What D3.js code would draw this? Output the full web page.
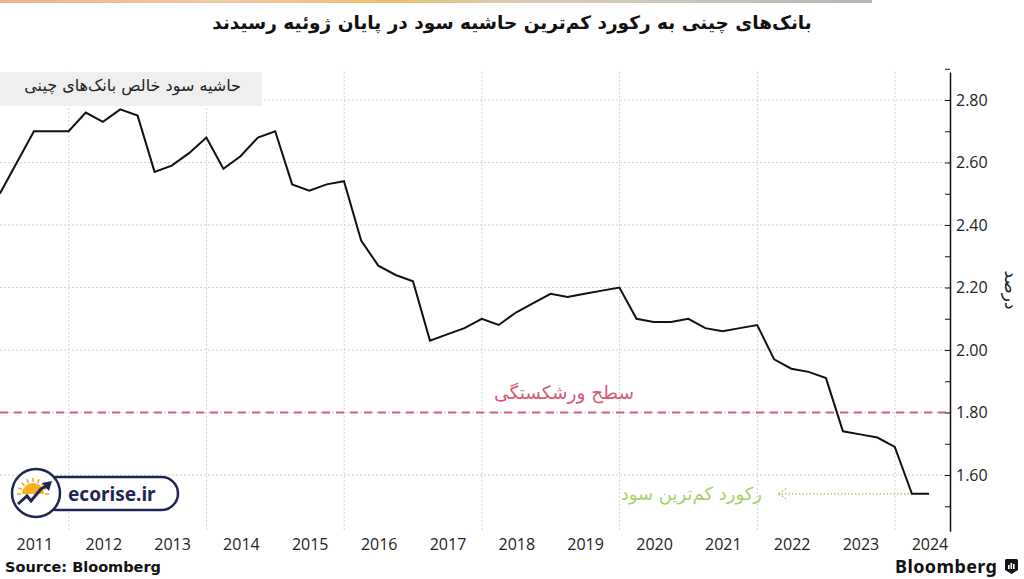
<!DOCTYPE html>
<html>
<head>
<meta charset="utf-8">
<script src="https://cdn.jsdelivr.net/npm/d3@7"></script>
<style>
  body { margin: 0; background: #fff; }
  svg { display: block; }
</style>
</head>
<body>
<div id="chart"></div>
<script>
// quarter-end dates and net interest margin (%) of Chinese commercial banks
const quarterEnds = [
  '2010-12-31', '2011-06-30', '2011-09-30', '2011-12-31',
  '2012-03-31', '2012-06-30', '2012-09-30', '2012-12-31',
  '2013-03-31', '2013-06-30', '2013-09-30', '2013-12-31',
  '2014-03-31', '2014-06-30', '2014-09-30', '2014-12-31',
  '2015-03-31', '2015-06-30', '2015-09-30', '2015-12-31',
  '2016-03-31', '2016-06-30', '2016-09-30', '2016-12-31',
  '2017-03-31', '2017-06-30', '2017-09-30', '2017-12-31',
  '2018-03-31', '2018-06-30', '2018-09-30', '2018-12-31',
  '2019-03-31', '2019-06-30', '2019-09-30', '2019-12-31',
  '2020-03-31', '2020-06-30', '2020-09-30', '2020-12-31',
  '2021-03-31', '2021-06-30', '2021-09-30', '2021-12-31',
  '2022-03-31', '2022-06-30', '2022-09-30', '2022-12-31',
  '2023-03-31', '2023-06-30', '2023-09-30', '2023-12-31',
  '2024-03-31', '2024-06-30'
];
const nimValues = [
  2.50, 2.70, 2.70, 2.70,
  2.76, 2.73, 2.77, 2.75,
  2.57, 2.59, 2.63, 2.68,
  2.58, 2.62, 2.68, 2.70,
  2.53, 2.51, 2.53, 2.54,
  2.35, 2.27, 2.24, 2.22,
  2.03, 2.05, 2.07, 2.10,
  2.08, 2.12, 2.15, 2.18,
  2.17, 2.18, 2.19, 2.20,
  2.10, 2.09, 2.09, 2.10,
  2.07, 2.06, 2.07, 2.08,
  1.97, 1.94, 1.93, 1.91,
  1.74, 1.73, 1.72, 1.69,
  1.54, 1.54
];
const yMajorTicks = [1.6, 1.8, 2.0, 2.2, 2.4, 2.6, 2.8];
const yMinorTicks = [1.5, 1.7, 1.9, 2.1, 2.3, 2.5, 2.7, 2.9];
const yearLabels = [2011, 2012, 2013, 2014, 2015, 2016, 2017, 2018, 2019, 2020, 2021, 2022, 2023, 2024];
const gridYears = [2012, 2014, 2016, 2018, 2020, 2022, 2024];
const breakEvenLevel = 1.8;
const recordLevel = 1.54;

const titleText = 'بانک\u200cهای چینی به رکورد کم\u200cترین حاشیه سود در پایان ژوئیه رسیدند';
const legendText = 'حاشیه سود خالص بانک\u200cهای چینی';
const unitText = 'درصد';
const breakEvenText = 'سطح ورشکستگی';
const recordText = 'رکورد کم\u200cترین سود';

const faFont = '"DejaVu Sans", sans-serif';
const numFont = '"Open Sans", "Noto Sans", sans-serif';

const width = 1024;
const height = 579;
const plotLeft = 0;
const plotRight = 950;

const parseDate = d3.timeParse('%Y-%m-%d');
const data = quarterEnds.map((d, i) => ({ date: parseDate(d), value: nimValues[i] }));

const svg = d3.select('#chart')
  .append('svg')
  .attr('width', width)
  .attr('height', height);

const x = d3.scaleTime()
  .domain([new Date(2011, 0, 1), new Date(2024, 9, 19)])
  .range([plotLeft, plotRight]);

const y = d3.scaleLinear()
  .domain([1.42, 2.89])
  .range([531.25, 71.875]);

// thin coloured strip at the very top (photo banner edge)
const grad = svg.append('defs').append('linearGradient').attr('id', 'strip');
[['0%', '#e9b48f'], ['25%', '#f0c9a6'], ['45%', '#e8c070'], ['60%', '#d9cdb8'], ['80%', '#c9c4bb'], ['100%', '#b9b6b0']]
  .forEach(([o, c]) => grad.append('stop').attr('offset', o).attr('stop-color', c));
svg.append('rect').attr('x', 0).attr('y', 0).attr('width', 872).attr('height', 3).attr('fill', 'url(#strip)');

// title
svg.append('text')
  .attr('x', 512)
  .attr('y', 29)
  .attr('text-anchor', 'middle')
  .style('font-family', faFont)
  .style('font-weight', 'bold')
  .style('font-size', '18.5px')
  .style('fill', '#111')
  .text(titleText);

// grid
svg.append('g')
  .selectAll('line')
  .data(yMajorTicks)
  .enter().append('line')
  .attr('x1', plotLeft)
  .attr('x2', plotRight)
  .attr('y1', d => y(d))
  .attr('y2', d => y(d))
  .attr('stroke', '#cfcfcf')
  .attr('stroke-dasharray', '2,2');

svg.append('g')
  .selectAll('line')
  .data(gridYears)
  .enter().append('line')
  .attr('x1', d => x(new Date(d, 0, 1)))
  .attr('x2', d => x(new Date(d, 0, 1)))
  .attr('y1', y.range()[1])
  .attr('y2', y.range()[0])
  .attr('stroke', '#cfcfcf')
  .attr('stroke-dasharray', '2,2');

// legend box
svg.append('rect')
  .attr('x', 0).attr('y', 72)
  .attr('width', 262).attr('height', 34)
  .attr('fill', '#efefef');
svg.append('text')
  .attr('x', 241)
  .attr('y', 91)
  .attr('text-anchor', 'end')
  .style('font-family', faFont)
  .style('font-size', '16px')
  .style('fill', '#222')
  .text(legendText);

// break-even level
svg.append('line')
  .attr('x1', plotLeft)
  .attr('x2', plotRight)
  .attr('y1', y(breakEvenLevel))
  .attr('y2', y(breakEvenLevel))
  .attr('stroke', '#dc5d78')
  .attr('stroke-width', 2)
  .attr('stroke-dasharray', '8,6');
svg.append('text')
  .attr('x', 564)
  .attr('y', y(breakEvenLevel) - 14)
  .attr('text-anchor', 'middle')
  .style('font-family', faFont)
  .style('font-size', '18.5px')
  .style('fill', '#d65a74')
  .text(breakEvenText);

// record-low annotation
const recordY = y(recordLevel);
const arrowX = 778;
svg.append('line')
  .attr('x1', arrowX)
  .attr('x2', x(data[data.length - 1].date))
  .attr('y1', recordY)
  .attr('y2', recordY)
  .attr('stroke', '#a9d46c')
  .attr('stroke-width', 1.5)
  .attr('stroke-dasharray', '1.5,2');
svg.append('path')
  .attr('d', `M${arrowX + 8},${recordY - 5} L${arrowX},${recordY} L${arrowX + 8},${recordY + 5}`)
  .attr('fill', 'none')
  .attr('stroke', '#a9d46c')
  .attr('stroke-width', 1.5)
  .attr('stroke-dasharray', '1.5,2');
svg.append('text')
  .attr('x', 762)
  .attr('y', recordY + 6)
  .attr('text-anchor', 'end')
  .style('font-family', faFont)
  .style('font-size', '18px')
  .style('fill', '#a6d26a')
  .text(recordText);

// line
const line = d3.line()
  .x(d => x(d.date))
  .y(d => y(d.value));

svg.append('path')
  .datum(data)
  .attr('fill', 'none')
  .attr('stroke', '#111')
  .attr('stroke-width', 2)
  .attr('stroke-linejoin', 'miter')
  .attr('d', line);

// y axis on the right, ticks pointing inward
const yAxis = svg.append('g')
  .attr('transform', `translate(${plotRight},0)`)
  .call(d3.axisRight(y)
    .tickValues(yMajorTicks)
    .tickFormat(d3.format('.2f'))
    .tickSizeInner(-5)
    .tickSizeOuter(0)
    .tickPadding(6));
yAxis.select('.domain').attr('stroke', '#111').attr('stroke-width', 1.5);
yAxis.selectAll('.tick line').attr('stroke', '#111');
yAxis.selectAll('.tick text')
  .style('font-family', numFont)
  .style('font-size', '16px')
  .style('fill', '#222');

const yMinor = svg.append('g')
  .attr('transform', `translate(${plotRight},0)`)
  .call(d3.axisRight(y)
    .tickValues(yMinorTicks)
    .tickFormat('')
    .tickSizeInner(-5)
    .tickSizeOuter(0));
yMinor.select('.domain').remove();
yMinor.selectAll('.tick line').attr('stroke', '#111');

svg.append('text')
  .attr('transform', 'translate(1005,290) rotate(90)')
  .attr('text-anchor', 'middle')
  .style('font-family', faFont)
  .style('font-size', '17px')
  .style('fill', '#222')
  .text(unitText);

// x axis: year labels centred in each year
const xAxis = svg.append('g')
  .attr('transform', 'translate(0,531)')
  .call(d3.axisBottom(x)
    .tickValues(yearLabels.map(yr => new Date(yr, 6, 2)))
    .tickFormat(d3.timeFormat('%Y'))
    .tickSize(0)
    .tickPadding(8));
xAxis.select('.domain').remove();
xAxis.selectAll('.tick text')
  .attr('dy', '0.71em')
  .style('font-family', numFont)
  .style('font-size', '16px')
  .style('fill', '#222');

// source
svg.append('text')
  .attr('x', 5)
  .attr('y', 572)
  .style('font-family', '"DejaVu Sans", sans-serif')
  .style('font-weight', 'bold')
  .style('font-size', '14.5px')
  .style('fill', '#111')
  .text('Source: Bloomberg');

// Bloomberg mark
svg.append('text')
  .attr('x', 895)
  .attr('y', 573)
  .style('font-family', '"Noto Sans", sans-serif')
  .style('font-weight', 'bold')
  .style('font-size', '18px')
  .style('fill', '#111')
  .attr('textLength', 102)
  .text('Bloomberg');
const mark = svg.append('g').attr('transform', 'translate(1005,559)');
mark.append('path')
  .attr('d', 'M0,1.5 Q0,0 1.5,0 L11.5,0 Q13,0 13,1.5 L13,11 L6.5,15 L0,11 Z')
  .attr('fill', '#111');
[[3, 6], [5.5, 4], [8, 5]].forEach(([bx, by]) => {
  mark.append('rect').attr('x', bx).attr('y', by).attr('width', 1.6).attr('height', 10 - by).attr('fill', '#fff');
});

// ecorise.ir badge
const badge = svg.append('g');
badge.append('rect')
  .attr('x', 40).attr('y', 477)
  .attr('width', 138).attr('height', 33)
  .attr('rx', 16.5)
  .attr('fill', '#fff')
  .attr('stroke', '#1f2655')
  .attr('stroke-width', 2.5);
badge.append('circle')
  .attr('cx', 36).attr('cy', 493)
  .attr('r', 24)
  .attr('fill', '#fff')
  .attr('stroke', '#1f2655')
  .attr('stroke-width', 2.5);
badge.append('path')
  .attr('d', 'M22,494 A11,11 0 0 1 44,494 Z')
  .attr('fill', '#f5b322');
d3.range(9).forEach(i => {
  const a = Math.PI + (i / 8) * Math.PI;
  badge.append('line')
    .attr('x1', 33 + Math.cos(a) * 12).attr('y1', 494 + Math.sin(a) * 12)
    .attr('x2', 33 + Math.cos(a) * 16).attr('y2', 494 + Math.sin(a) * 16)
    .attr('stroke', '#f39c1f').attr('stroke-width', 1.5);
});
badge.append('path')
  .attr('d', 'M18,504 L27,496 L31,501 L41,489 L46,486')
  .attr('fill', 'none')
  .attr('stroke', '#1f2655')
  .attr('stroke-width', 3);
badge.append('path')
  .attr('d', 'M42,483 L52,481 L49,491 Z')
  .attr('fill', '#1f2655');
badge.append('text')
  .attr('x', 68)
  .attr('y', 501)
  .style('font-family', '"Noto Sans", sans-serif')
  .style('font-weight', 'bold')
  .style('font-size', '19px')
  .style('fill', '#1f2655')
  .text('ecorise.ir');
</script>
</body>
</html>
